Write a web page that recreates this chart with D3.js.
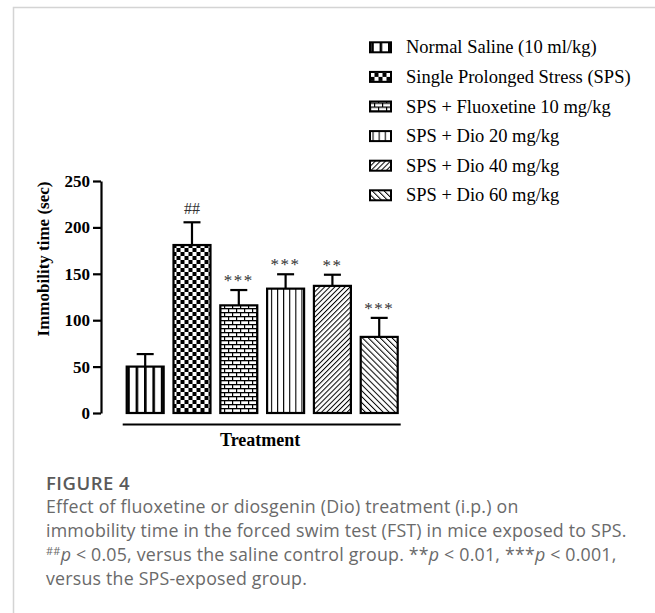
<!DOCTYPE html>
<html>
<head>
<meta charset="utf-8">
<script src="https://cdn.jsdelivr.net/npm/d3@7"></script>
<style>
  html, body { margin: 0; padding: 0; background: #fff; }
  svg { display: block; }
</style>
</head>
<body>
<svg id="chart" width="655" height="613"></svg>
<script>
// Groups, mean immobility time and SEM (sec)
const groups = [
  "Normal Saline (10 ml/kg)",
  "Single Prolonged Stress (SPS)",
  "SPS + Fluoxetine 10 mg/kg",
  "SPS + Dio 20 mg/kg",
  "SPS + Dio 40 mg/kg",
  "SPS + Dio 60 mg/kg"
];
const means = [50, 181, 116, 134, 137, 82];
const sems = [13.5, 24.5, 16.5, 15.5, 12, 20.5];
const marks = ["", "##", "***", "***", "**", "***"];
const patternIds = ["pSaline", "pSPS", "pFlx", "pD20", "pD40", "pD60"];
const yTicks = [0, 50, 100, 150, 200, 250];
const captionTitle = "FIGURE 4";
const captionLines = [
  "Effect of fluoxetine or diosgenin (Dio) treatment (i.p.) on",
  "immobility time in the forced swim test (FST) in mice exposed to SPS.",
  null, // third line has superscripts and italics, built below
  "versus the SPS-exposed group."
];

const svg = d3.select("#chart");
const serif = "'Liberation Serif', 'Times New Roman', serif";

// Page frame
svg.append("path")
  .attr("d", "M13.5,613 L13.5,7.5 L655,7.5")
  .attr("fill", "none").attr("stroke", "#d4d4d4").attr("stroke-width", 1.5);

// Fill patterns
const defs = svg.append("defs");
function pattern(id, w, h, transform) {
  const p = defs.append("pattern").attr("id", id)
    .attr("patternUnits", "userSpaceOnUse").attr("width", w).attr("height", h);
  if (transform) p.attr("patternTransform", transform);
  p.append("rect").attr("width", w).attr("height", h).attr("fill", "#fff");
  return p;
}
// thick vertical bars
pattern("pSaline", 8.4, 10, "translate(1.2,0)")
  .append("rect").attr("x", 0).attr("y", 0).attr("width", 2.6).attr("height", 10).attr("fill", "#000");
// checkerboard
{
  const p = pattern("pSPS", 8, 8, "translate(0.5,0)");
  p.append("rect").attr("x", 0).attr("y", 0).attr("width", 4).attr("height", 4).attr("fill", "#000");
  p.append("rect").attr("x", 4).attr("y", 4).attr("width", 4).attr("height", 4).attr("fill", "#000");
}
// brick
{
  const p = pattern("pFlx", 8, 8);
  p.append("rect").attr("x", 0).attr("y", 0).attr("width", 8).attr("height", 1.3).attr("fill", "#000");
  p.append("rect").attr("x", 0).attr("y", 4).attr("width", 8).attr("height", 1.3).attr("fill", "#000");
  p.append("rect").attr("x", 0).attr("y", 0).attr("width", 1.2).attr("height", 4).attr("fill", "#000");
  p.append("rect").attr("x", 4).attr("y", 4).attr("width", 1.2).attr("height", 4).attr("fill", "#000");
}
// thin vertical lines
pattern("pD20", 6.1, 10, "translate(2.5,0)")
  .append("rect").attr("x", 0).attr("y", 0).attr("width", 1.1).attr("height", 10).attr("fill", "#000");
// forward diagonal
pattern("pD40", 3.6, 10, "rotate(45)")
  .append("rect").attr("x", 0).attr("y", 0).attr("width", 1.0).attr("height", 10).attr("fill", "#000");
// backward diagonal
pattern("pD60", 4.2, 10, "rotate(-45)")
  .append("rect").attr("x", 0).attr("y", 0).attr("width", 1.0).attr("height", 10).attr("fill", "#000");

// Scales
const y = d3.scaleLinear().domain([0, 250]).range([413, 181]);
const x = d3.scaleBand().domain(groups).range([126.7, 397.7]).paddingInner(0.21).paddingOuter(0);

// Y axis
const yAxis = svg.append("g").attr("transform", "translate(101,0)")
  .call(d3.axisLeft(y).tickValues(yTicks).tickSize(8).tickSizeOuter(0).tickPadding(3));
yAxis.attr("font-family", null).attr("font-size", null);
yAxis.select(".domain").attr("stroke", "#000").attr("stroke-width", 2.2);
yAxis.selectAll(".tick line").attr("stroke", "#000").attr("stroke-width", 2.2);
yAxis.selectAll(".tick text")
  .style("font-family", serif).style("font-weight", "bold").style("font-size", "17px").attr("fill", "#000");

svg.append("text")
  .attr("transform", "translate(49,259) rotate(-90)")
  .attr("text-anchor", "middle")
  .attr("font-family", serif).attr("font-weight", "bold").attr("font-size", 17)
  .text("Immobility time (sec)");

// X baseline and title
svg.append("line")
  .attr("x1", x.range()[0] - 4).attr("x2", x.range()[1] + 3)
  .attr("y1", 424.5).attr("y2", 424.5)
  .attr("stroke", "#000").attr("stroke-width", 2.2);
svg.append("text")
  .attr("x", (x.range()[0] + x.range()[1]) / 2 - 2).attr("y", 446)
  .attr("text-anchor", "middle")
  .attr("font-family", serif).attr("font-weight", "bold").attr("font-size", 18)
  .text("Treatment");

// Bars
const rows = groups.map((g, i) => ({ g, mean: means[i], sem: sems[i], mark: marks[i], pid: patternIds[i] }));
const bar = svg.append("g").selectAll("g").data(rows).join("g");

bar.append("line")
  .attr("x1", d => x(d.g) + x.bandwidth() / 2).attr("x2", d => x(d.g) + x.bandwidth() / 2)
  .attr("y1", d => y(d.mean)).attr("y2", d => y(d.mean + d.sem))
  .attr("stroke", "#000").attr("stroke-width", 2.2);
bar.append("line")
  .attr("x1", d => x(d.g) + x.bandwidth() / 2 - 8.5).attr("x2", d => x(d.g) + x.bandwidth() / 2 + 8.5)
  .attr("y1", d => y(d.mean + d.sem)).attr("y2", d => y(d.mean + d.sem))
  .attr("stroke", "#000").attr("stroke-width", 2.2);
bar.append("rect")
  .attr("x", d => x(d.g)).attr("width", x.bandwidth())
  .attr("y", d => y(d.mean)).attr("height", d => y(0) - y(d.mean))
  .attr("fill", d => `url(#${d.pid})`)
  .attr("stroke", "#000").attr("stroke-width", 2.2);
bar.append("text")
  .attr("x", d => x(d.g) + x.bandwidth() / 2)
  .attr("y", d => y(d.mean + d.sem) - (d.mark.startsWith("#") ? 8 : 4))
  .attr("text-anchor", "middle")
  .attr("font-family", serif).attr("font-size", d => d.mark.startsWith("#") ? 16 : 17)
  .attr("letter-spacing", d => d.mark.startsWith("#") ? 0 : 1.5)
  .attr("fill", "#333")
  .text(d => d.mark);

// Legend
const legend = svg.append("g").selectAll("g").data(rows).join("g")
  .attr("transform", (d, i) => `translate(370,${47.3 + i * 29.6})`);
legend.append("rect")
  .attr("x", 0).attr("y", -5).attr("width", 21).attr("height", 10)
  .attr("fill", d => `url(#${d.pid})`).attr("stroke", "#000").attr("stroke-width", 2);
legend.append("text")
  .attr("x", 36).attr("y", 6)
  .attr("font-family", serif).attr("font-size", 18.5)
  .text(d => d.g);

// Caption
const cap = svg.append("g").attr("font-family", "'Open Sans', Lato, sans-serif").attr("fill", "#6a6a6a");
cap.append("text").attr("x", 46).attr("y", 490)
  .attr("font-size", 18.5).attr("font-weight", 600).attr("letter-spacing", 0.5)
  .attr("fill", "#5a5a5a").text(captionTitle);
const lineY = [513, 537, 561, 585];
const bodySize = 17.8, bodySpacing = 0.2;
captionLines.forEach((t, i) => {
  if (t === null) return;
  cap.append("text").attr("x", 46).attr("y", lineY[i])
    .attr("font-size", bodySize).attr("letter-spacing", bodySpacing).text(t);
});
{
  const t = cap.append("text").attr("x", 46).attr("y", lineY[2])
    .attr("font-size", bodySize).attr("letter-spacing", bodySpacing);
  t.append("tspan").attr("font-size", 11).attr("dy", -6).text("##");
  t.append("tspan").attr("font-style", "italic").attr("dy", 6).text("p");
  t.append("tspan").text(" < 0.05, versus the saline control group. **");
  t.append("tspan").attr("font-style", "italic").text("p");
  t.append("tspan").text(" < 0.01, ***");
  t.append("tspan").attr("font-style", "italic").text("p");
  t.append("tspan").text(" < 0.001,");
}
</script>
</body>
</html>
